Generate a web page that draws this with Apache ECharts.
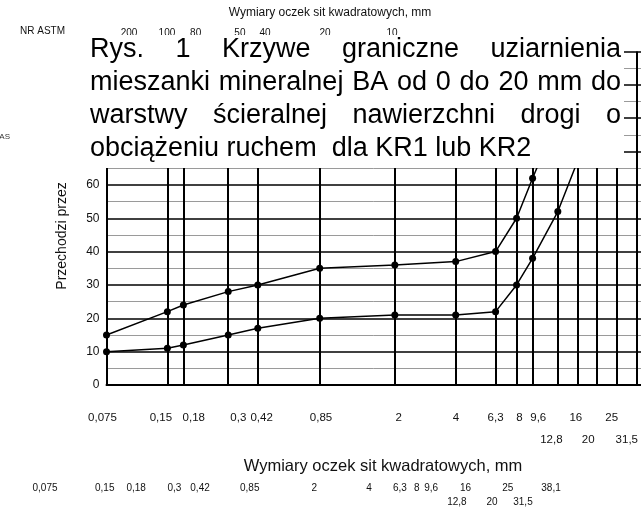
<!DOCTYPE html>
<html><head><meta charset="utf-8">
<script src="https://cdn.jsdelivr.net/npm/echarts@6/dist/echarts.min.js"></script>
<style>html,body{margin:0;padding:0;background:#fff}#c{width:641px;height:517px}</style>
</head><body><div id="c"></div>
<script>
// ---- data ----
const sieves = [0.075, 0.15, 0.18, 0.3, 0.42, 0.85, 2, 4, 6.3, 8, 9.6, 12.8, 16, 20, 25, 31.5, 38.1];
const rowALabels = [0.075, 0.15, 0.18, 0.3, 0.42, 0.85, 2, 4, 6.3, 8, 9.6, 16, 25];
const rowBLabels = [12.8, 20, 31.5];
const bottomALabels = [0.075, 0.15, 0.18, 0.3, 0.42, 0.85, 2, 4, 6.3, 8, 9.6, 16, 25, 38.1];
const bottomBLabels = [12.8, 20, 31.5];
const astmSizes = [0.075, 0.15, 0.18, 0.3, 0.42, 0.85, 2];
const astmNumbers = ['200', '100', '80', '50', '40', '20', '10'];
const upperX = [0.075, 0.15, 0.18, 0.3, 0.42, 0.85, 2, 4, 6.3, 8, 9.6, 12.8];
const upperY = [15, 22, 24, 28, 30, 35, 36, 37, 40, 50, 62, 80];
const lowerX = [0.075, 0.15, 0.18, 0.3, 0.42, 0.85, 2, 4, 6.3, 8, 9.6, 12.8, 16];
const lowerY = [10, 11, 12, 15, 17, 20, 21, 21, 22, 30, 38, 52, 67];
const titleLines = [
  'Rys.  1  Krzywe  graniczne  uziarnienia',
  'mieszanki mineralnej BA od 0 do 20 mm do',
  'warstwy  ścieralnej  nawierzchni  drogi  o',
  'obciążeniu ruchem  dla KR1 lub KR2'
];
const axisTitle = 'Wymiary oczek sit kwadratowych, mm';
const yName = 'Przechodzi przez';

// ---- styling: label nudges (px) of the scanned printed scales ----
const nudgeHeader = {0.15: -18, 0.18: -4, 0.3: -1, 0.42: -3, 2: -2};
const nudgeRowA = {0.075: -4, 0.15: -6, 0.18: 11, 0.3: 11, 0.42: 5, 0.85: 3, 2: 6, 4: 3, 6.3: 3, 8: 6, 9.6: 9, 16: 2, 25: -1};
const nudgeRowB = {12.8: -3, 20: -5, 31.5: -6};
const nudgeBotA = {0.075: -10, 0.15: -5, 0.18: 12, 0.3: 10, 0.42: 9, 0.85: 3, 6.3: -5, 8: -7, 9.6: -7, 16: -13, 25: -6, 38.1: 4};
const nudgeBotB = {12.8: -4, 20: -4, 31.5: -9};

const FONT = '"Liberation Sans", Arial, sans-serif';
const fmt = v => String(+(+v).toFixed(3)).replace('.', ',');
const X_MIN = 0.075, X_MAX_MAIN = 33, X_MAX_AUX = 38.1;

const grids = [
  {left: 106.5, right: 0, top: 51.5, bottom: 132},
  {left: 106.5, right: 0, top: 51.5, bottom: 132},
  {left: 129, width: 503, top: 22, height: 2},
  {left: 55, right: 94, top: 478, height: 2},
  {left: 55, right: 94, top: 492, height: 2}
];

function findNudge(map, v) {
  for (const k in map) if (Math.abs(+k - v) < 1e-6) return map[k];
  return 0;
}

function labelAxis(gridIndex, min, max, values, margin, size, nudges, textOf) {
  const rich = {};
  const keys = {};
  values.forEach((v, i) => {
    const d = findNudge(nudges, v);
    const key = 'k' + i;
    keys[i] = key;
    rich[key] = {fontSize: size, color: '#111', fontFamily: FONT,
      padding: d >= 0 ? [0, 0, 0, 2 * d] : [0, -2 * d, 0, 0]};
  });
  return {
    type: 'log', gridIndex, min, max, position: 'bottom',
    axisLine: {show: false}, axisTick: {show: false}, splitLine: {show: false},
    axisLabel: {customValues: values, margin, fontSize: size, color: '#111',
      fontFamily: FONT, hideOverlap: false, showMinLabel: true, showMaxLabel: true,
      rich,
      formatter: v => {
        const i = values.findIndex(s => Math.abs(s - v) < 1e-6);
        if (i < 0) return '';
        return '{' + keys[i] + '|' + (textOf ? textOf(i) : fmt(values[i])) + '}';
      }}
  };
}

const xAxes = [
  {type: 'log', gridIndex: 0, min: X_MIN, max: X_MAX_MAIN,
    axisLine: {show: true, lineStyle: {color: '#000', width: 2}},
    axisTick: {show: false}, axisLabel: {show: false}, splitLine: {show: false}, minorSplitLine: {show: false}},
  labelAxis(1, X_MIN, X_MAX_MAIN, rowALabels, 27, 11.5, nudgeRowA),
  labelAxis(1, X_MIN, X_MAX_MAIN, rowBLabels, 49, 11.5, nudgeRowB),
  labelAxis(2, X_MIN, X_MAX_AUX, astmSizes, 4, 10, nudgeHeader, i => astmNumbers[i]),
  labelAxis(3, X_MIN, X_MAX_AUX, bottomALabels, 3, 10, nudgeBotA),
  labelAxis(4, X_MIN, X_MAX_AUX, bottomBLabels, 3, 10, nudgeBotB)
];

const yAxes = [
  {type: 'value', gridIndex: 0, min: 0, max: 100, interval: 10,
    axisLine: {show: true, lineStyle: {color: '#000', width: 2}}, axisTick: {show: false},
    axisLabel: {margin: 7, fontSize: 12, color: '#111', fontFamily: FONT},
    splitLine: {show: true, lineStyle: {color: '#000', width: 1.6}},
    minorTick: {show: false, splitNumber: 2},
    minorSplitLine: {show: true, lineStyle: {color: '#9a9a9a', width: 1}}},
  {type: 'value', gridIndex: 1, min: 0, max: 100, show: false},
  {type: 'value', gridIndex: 2, show: false},
  {type: 'value', gridIndex: 3, show: false},
  {type: 'value', gridIndex: 4, show: false}
];

// ---- title (justified) ----
const ctx = document.createElement('canvas').getContext('2d');
const TFS = 27;
ctx.font = TFS + 'px ' + FONT;
const TL = 90, TR = 621, TY0 = 50, TDY = 32.7;
const graphics = [
  {type: 'rect', z: 100, shape: {x: 72, y: 35, width: 552, height: 133}, style: {fill: '#fff'}}
];
titleLines.forEach((line, i) => {
  const y = TY0 + i * TDY;
  if (i === titleLines.length - 1) {
    graphics.push({type: 'text', z: 101, x: TL, y,
      style: {text: line, font: TFS + 'px ' + FONT, fill: '#000', textAlign: 'left', textVerticalAlign: 'middle'}});
    return;
  }
  const words = line.split(/\s+/);
  const widths = words.map(w => ctx.measureText(w).width);
  const gap = (TR - TL - widths.reduce((a, b) => a + b, 0)) / (words.length - 1);
  let x = TL;
  words.forEach((w, j) => {
    graphics.push({type: 'text', z: 101, x, y,
      style: {text: w, font: TFS + 'px ' + FONT, fill: '#000', textAlign: 'left', textVerticalAlign: 'middle'}});
    x += widths[j] + gap;
  });
});
graphics.push(
  {type: 'text', z: 101, x: 330, y: 13, style: {text: axisTitle, font: '12px ' + FONT, fill: '#111', textAlign: 'center', textVerticalAlign: 'middle'}},
  {type: 'text', z: 101, x: 20, y: 31, style: {text: 'NR ASTM', font: '10px ' + FONT, fill: '#111', textAlign: 'left', textVerticalAlign: 'middle'}},
  {type: 'text', z: 101, x: 10, y: 137, style: {text: 'NR AS', font: '8px ' + FONT, fill: '#333', textAlign: 'right', textVerticalAlign: 'middle'}},
  {type: 'text', z: 101, x: 383, y: 466, style: {text: axisTitle, font: '16.5px ' + FONT, fill: '#111', textAlign: 'center', textVerticalAlign: 'middle'}},
  {type: 'text', z: 101, x: 62, y: 236, rotation: Math.PI / 2, style: {text: yName, font: '14px ' + FONT, fill: '#111', textAlign: 'center', textVerticalAlign: 'middle'}}
);

const chart = echarts.init(document.getElementById('c'), null, {renderer: 'canvas'});
const toPairs = (xs, ys) => xs.map((x, i) => [x, ys[i]]);
const lineSeries = (name, xs, ys, withGrid) => ({
  name, type: 'line', xAxisIndex: 0, yAxisIndex: 0, data: toPairs(xs, ys),
  symbol: 'circle', symbolSize: 7, z: 5,
  lineStyle: {color: '#000', width: 1.5}, itemStyle: {color: '#000'},
  emphasis: {disabled: true},
  markLine: withGrid ? {
    silent: true, symbol: ['none', 'none'], label: {show: false}, z: 3,
    lineStyle: {color: '#000', width: 2, type: 'solid'}, emphasis: {disabled: true},
    data: sieves.filter(v => v <= X_MAX_MAIN).map(v => ({xAxis: v}))
  } : undefined
});
chart.setOption({
  animation: false,
  backgroundColor: '#fff',
  grid: grids,
  xAxis: xAxes,
  yAxis: yAxes,
  series: [lineSeries('upper', upperX, upperY, true), lineSeries('lower', lowerX, lowerY, false)],
  graphic: {elements: graphics}
});
</script></body></html>
